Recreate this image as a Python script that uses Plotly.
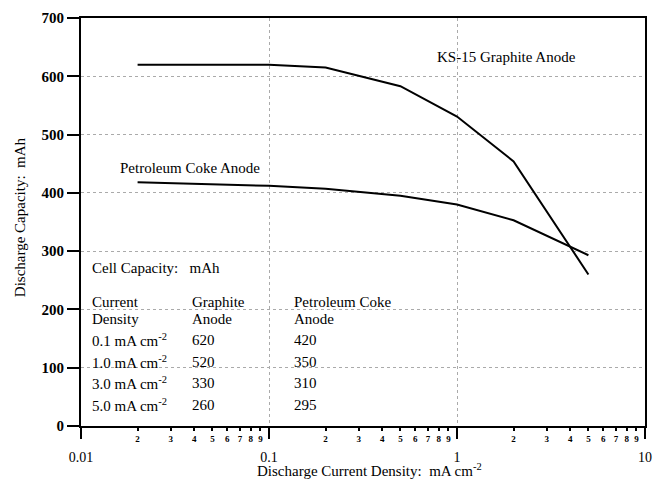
import plotly.graph_objects as go

# Discharge current density (mA cm^-2)
graphite_x = [0.02, 0.1, 0.2, 0.5, 1.0, 2.0, 5.0]
graphite_y = [620, 620, 615, 583, 531, 454, 260]
coke_x = [0.02, 0.1, 0.2, 0.5, 1.0, 2.0, 5.0]
coke_y = [418, 412, 407, 395, 380, 353, 293]

y_ticks = [0, 100, 200, 300, 400, 500, 600, 700]
x_major = [0.01, 0.1, 1, 10]
x_major_text = ["0.01", "0.1", "1", "10"]
x_minor = [m * d for d in (0.01, 0.1, 1) for m in range(2, 10)]
x_minor_text = [str(m) for d in (0.01, 0.1, 1) for m in range(2, 10)]

table_header = ["Current", "Graphite", "Petroleum Coke"]
table_header2 = ["Density", "Anode", "Anode"]
table_density = ["0.1 mA cm<sup>-2</sup>", "1.0 mA cm<sup>-2</sup>",
                 "3.0 mA cm<sup>-2</sup>", "5.0 mA cm<sup>-2</sup>"]
table_graphite = ["620", "520", "330", "260"]
table_coke = ["420", "350", "310", "295"]

SERIF = "Liberation Serif, Times New Roman, serif"

fig = go.Figure()
fig.add_trace(go.Scatter(x=graphite_x, y=graphite_y, mode="lines",
                         line=dict(color="black", width=2), showlegend=False,
                         hoverinfo="skip"))
fig.add_trace(go.Scatter(x=coke_x, y=coke_y, mode="lines", xaxis="x2",
                         line=dict(color="black", width=2), showlegend=False,
                         hoverinfo="skip"))

fig.update_layout(
    width=653, height=480,
    margin=dict(l=81, r=8, t=18, b=54),
    paper_bgcolor="white", plot_bgcolor="white",
    xaxis=dict(type="log", range=[-2, 1], tickvals=x_major, ticktext=x_major_text,
               ticks="outside", ticklen=11, tickwidth=1.5, tickcolor="black",
               showline=True, linecolor="black", linewidth=2, mirror=True,
               showgrid=True, gridcolor="#aaaaaa", griddash="dot", gridwidth=1,
               zeroline=False, ticklabelstandoff=6, automargin=False,
               tickfont=dict(family=SERIF, size=14, color="black")),
    xaxis2=dict(type="log", range=[-2, 1], overlaying="x", anchor="y", side="bottom",
                tickvals=x_minor, ticktext=x_minor_text, automargin=False,
                ticks="outside", ticklen=4, tickwidth=1.5, tickcolor="black",
                showgrid=False, showline=False, zeroline=False,
                tickfont=dict(family=SERIF, size=9, color="black", weight="bold")),
    yaxis=dict(range=[0, 700], tickvals=y_ticks, automargin=False,
               ticks="outside", ticklen=12, tickwidth=1.5, tickcolor="black",
               showline=True, linecolor="black", linewidth=2, mirror=True,
               showgrid=True, gridcolor="#aaaaaa", griddash="dot", gridwidth=1,
               zeroline=False,
               tickfont=dict(family=SERIF, size=15, color="black", weight="bold")),
)

# axis titles
fig.add_annotation(text="Discharge Current Density:  mA cm<sup>-2</sup>",
                   x=0.511, y=-0.108, xref="paper", yref="paper",
                   xanchor="center", yanchor="middle", showarrow=False,
                   font=dict(family=SERIF, size=15, color="black"))
fig.add_annotation(text="Discharge Capacity:  mAh", textangle=-90,
                   x=-0.108, y=0.512, xref="paper", yref="paper",
                   xanchor="center", yanchor="middle", showarrow=False,
                   font=dict(family=SERIF, size=15, color="black"))

def note(text, xp, yp):
    fig.add_annotation(text=text, x=xp, y=yp, xref="paper", yref="paper",
                       xanchor="left", yanchor="middle", showarrow=False,
                       font=dict(family=SERIF, size=15, color="black"))

note("KS-15 Graphite Anode", 0.628, 0.904)
note("Petroleum Coke Anode", 0.066, 0.632)
note("Cell Capacity:   mAh", 0.016, 0.387)

cols = [0.016, 0.193, 0.374]
for c, t in zip(cols, table_header):
    note(t, c, 0.304)
for c, t in zip(cols, table_header2):
    note(t, c, 0.262)
rows_y = [0.211, 0.157, 0.105, 0.051]
for yp, d, g, k in zip(rows_y, table_density, table_graphite, table_coke):
    note(d, cols[0], yp)
    note(g, cols[1], yp)
    note(k, cols[2], yp)

fig.write_html("out.html",
               config={"displayModeBar": False},
               post_script="document.body.style.margin='0px';"
                           "document.body.style.overflow='hidden';")
